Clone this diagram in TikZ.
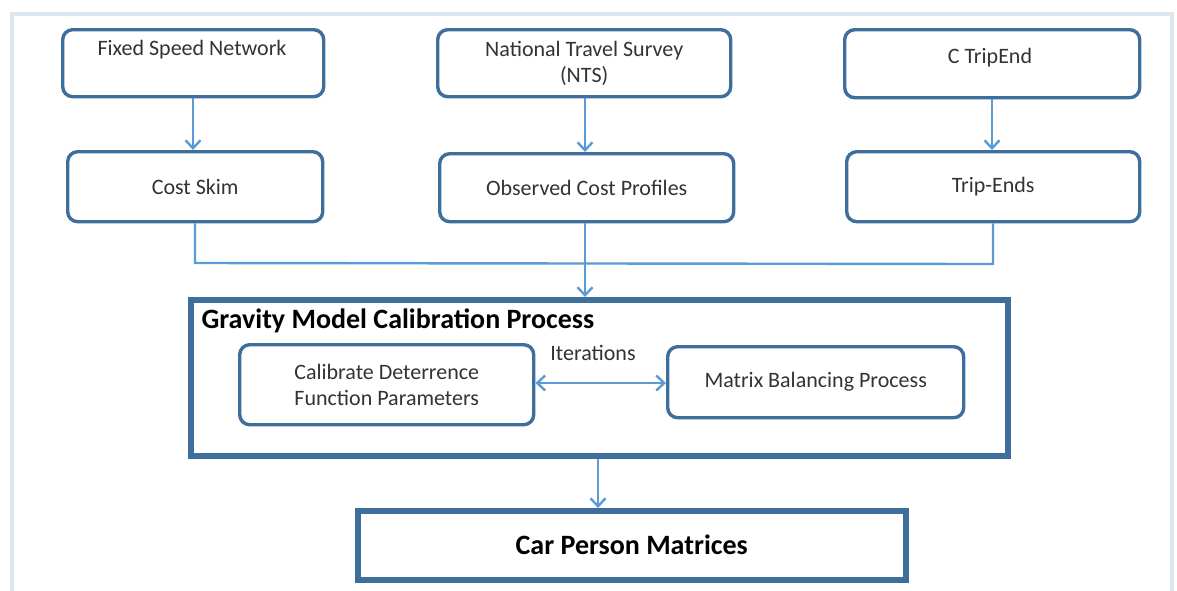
\documentclass[tikz,border=0pt]{standalone}
\usepackage{fontspec}
\setmainfont{Carlito}
\usetikzlibrary{arrows.meta}
\definecolor{boxblue}{HTML}{3E6E9C}
\definecolor{arrowblue}{HTML}{5B9BD5}
\definecolor{framecol}{HTML}{DDE7F1}
\definecolor{txt}{HTML}{333333}
\tikzset{
  rbox/.style={draw=boxblue, line width=3.4pt, rounded corners=10pt, fill=white, text=txt, font=\fontsize{22}{26}\selectfont, align=center, inner sep=0pt},
  bigbox/.style={draw=boxblue, line width=5.5pt, fill=white, inner sep=0pt},
  conn/.style={draw=arrowblue, line width=2.4pt},
  arr/.style={conn, -{Straight Barb[length=8pt,width=15pt,line width=2.4pt]}},
  darr/.style={conn, {Straight Barb[length=8pt,width=15pt,line width=2.4pt]}-{Straight Barb[length=8pt,width=15pt,line width=2.4pt]}},
}
\begin{document}
\begin{tikzpicture}[x=1pt,y=-1pt]
\useasboundingbox (0,0) rectangle (1177,590);
\fill[white] (0,0) rectangle (1177,590);
\draw[framecol, line width=4pt] (12,600) -- (12,14) -- (1172,14) -- (1172,600);
% top row
\node[rbox, minimum width=261pt, minimum height=67pt, anchor=north west] (fsn) at (61,28) {};
\node[text=txt, font=\fontsize{22}{26}\selectfont] (fsnt) at (192,50) {Fixed Speed Network};
\node[rbox, minimum width=293pt, minimum height=67pt, anchor=north west] (nts) at (436,28) {National Travel Survey\\(NTS)};
\node[rbox, minimum width=295pt, minimum height=68pt, anchor=north west] (cte) at (843,28) {};
\node[text=txt, font=\fontsize{22}{26}\selectfont] (ctet) at (990,58) {C TripEnd};
% second row
\node[rbox, minimum width=255pt, minimum height=70pt, anchor=north west] (cs) at (66,150) {Cost Skim};
\node[rbox, minimum width=294pt, minimum height=68pt, anchor=north west] (ocp) at (438,152) {Observed Cost Profiles};
\node[rbox, minimum width=293pt, minimum height=70pt, anchor=north west] (te) at (845,150) {Trip-Ends};
% gravity
\node[bigbox, minimum width=817pt, minimum height=156pt, anchor=north west] (grav) at (188,297) {};
\node[anchor=west, font=\fontsize{28}{32}\selectfont\bfseries, text=black] (gtitle) at (198,321) {Gravity Model Calibration Process};
\node[rbox, minimum width=294pt, minimum height=80pt, anchor=north west] (cal) at (238,343) {Calibrate Deterrence\\Function Parameters};
\node[rbox, minimum width=296pt, minimum height=71pt, anchor=north west] (mbp) at (666,345) {Matrix Balancing Process};
\node[text=txt, font=\fontsize{22}{26}\selectfont] (iter) at (593,353) {Iterations};
% result
\node[bigbox, minimum width=548pt, minimum height=69pt, anchor=north west, font=\fontsize{28}{32}\selectfont\bfseries, text=black] (cpm) at (355,508) {Car Person Matrices};
% connectors
\draw[arr] (fsn.south -| 193,0) -- (cs.north -| 193,0);
\draw[arr] (nts.south -| 585,0) -- (ocp.north -| 585,0);
\draw[arr] (cte.south -| 992,0) -- (te.north -| 992,0);
\coordinate (jl) at (195,263);
\coordinate (jr) at (993,264);
\draw[conn] (cs.south -| jl) -- (jl) -- (jr) -- (te.south -| jr);
\draw[arr] (ocp.south -| 585,0) -- (grav.north -| 585,0);
\draw[darr] (cal.east |- 0,383) -- (mbp.west |- 0,383);
\draw[arr] (grav.south -| 598,0) -- (cpm.north -| 598,0);
\end{tikzpicture}
\end{document}
